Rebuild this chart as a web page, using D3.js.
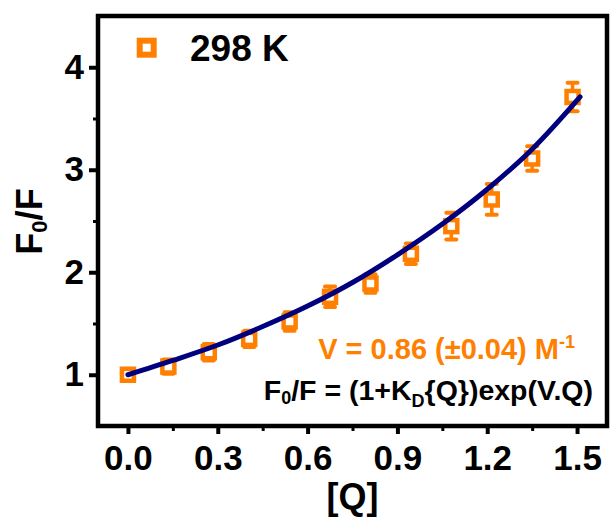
<!DOCTYPE html>
<meta charset="utf-8">
<style>

body {
  margin: 0;
  background: #fff;
}

svg {
  font-family: "Liberation Sans", Arial, sans-serif;
  font-weight: bold;
}

.axis text {
  font-family: "Liberation Sans", Arial, sans-serif;
  font-size: 35px;
  font-weight: bold;
  fill: #000;
}

.axis line {
  stroke: #000;
  stroke-width: 4px;
}

.axis.minor line {
  stroke-width: 3px;
}

.axis .domain {
  display: none;
}

.frame {
  fill: none;
  stroke: #000;
  stroke-width: 4.5px;
}

.errbar {
  stroke: #ff7f00;
  stroke-width: 3.5px;
}

.errcap {
  stroke: #ff7f00;
  stroke-width: 4px;
  stroke-linecap: round;
}

.marker {
  fill: #fff;
  stroke: #ff7f00;
}

.fit {
  fill: none;
  stroke: #00007f;
  stroke-width: 5px;
  stroke-linecap: round;
}

</style>
<svg width="611" height="517"></svg>
<script src="https://d3js.org/d3.v7.min.js"></script>
<script>

// measured points (298 K)
var qVals  = [0, 0.135, 0.27, 0.405, 0.54, 0.675, 0.81, 0.945, 1.08, 1.215, 1.35, 1.485];
var ratio  = [1.00, 1.08, 1.22, 1.35, 1.52, 1.76, 1.89, 2.18, 2.45, 2.71, 3.11, 3.71];
var errs   = [0.03, 0.07, 0.08, 0.08, 0.09, 0.10, 0.09, 0.10, 0.13, 0.15, 0.12, 0.14];

// fitted curve
var fitQ = [0, 0.15, 0.3, 0.45, 0.6, 0.75, 0.9, 1.05, 1.2, 1.35, 1.51];
var fitF = [1.00, 1.14, 1.29, 1.47, 1.67, 1.90, 2.17, 2.47, 2.81, 3.20, 3.71];

var xTicks = [0, 0.3, 0.6, 0.9, 1.2, 1.5];
var xMinor = [0.15, 0.45, 0.75, 1.05, 1.35];
var yTicks = [1, 2, 3, 4];
var yMinor = [1.5, 2.5, 3.5];

var svg = d3.select("svg"),
    plot = {left: 98, right: 607, top: 16, bottom: 426};

var x = d3.scaleLinear()
    .domain([-0.1, 1.6])
    .range([plot.left, plot.right]);

var y = d3.scaleLinear()
    .domain([0.5, 4.5])
    .range([plot.bottom, plot.top]);

// minor ticks first, then majors
svg.append("g")
    .attr("class", "axis minor")
    .attr("transform", "translate(" + plot.left + ",0)")
    .call(d3.axisLeft(y).tickValues(yMinor).tickSize(5).tickFormat(""));

svg.append("g")
    .attr("class", "axis minor")
    .attr("transform", "translate(0," + plot.bottom + ")")
    .call(d3.axisBottom(x).tickValues(xMinor).tickSize(5).tickFormat(""));

svg.append("g")
    .attr("class", "axis")
    .attr("transform", "translate(" + plot.left + ",0)")
    .call(d3.axisLeft(y).tickValues(yTicks).tickSize(9).tickPadding(5).tickFormat(d3.format("d")));

svg.append("g")
    .attr("class", "axis")
    .attr("transform", "translate(0," + plot.bottom + ")")
    .call(d3.axisBottom(x).tickValues(xTicks).tickSize(8).tickPadding(11).tickFormat(d3.format(".1f")));

svg.append("rect")
    .attr("class", "frame")
    .attr("x", plot.left)
    .attr("y", plot.top)
    .attr("width", plot.right - plot.left)
    .attr("height", plot.bottom - plot.top);

var pts = qVals.map(function(q, i) { return {q: q, f: ratio[i], e: errs[i]}; });

// error bars
var eb = svg.append("g");
eb.selectAll("line.errbar")
    .data(pts)
  .enter().append("line")
    .attr("class", "errbar")
    .attr("x1", function(d) { return x(d.q); })
    .attr("x2", function(d) { return x(d.q); })
    .attr("y1", function(d) { return y(d.f + d.e); })
    .attr("y2", function(d) { return y(d.f - d.e); });

[1, -1].forEach(function(s) {
  eb.selectAll("line.cap" + s)
      .data(pts)
    .enter().append("line")
      .attr("class", "errcap")
      .attr("x1", function(d) { return x(d.q) - 5; })
      .attr("x2", function(d) { return x(d.q) + 5; })
      .attr("y1", function(d) { return y(d.f + s * d.e); })
      .attr("y2", function(d) { return y(d.f + s * d.e); });
});

svg.append("g").selectAll("rect")
    .data(pts)
  .enter().append("rect")
    .attr("class", "marker")
    .attr("stroke-width", 4.5)
    .attr("x", function(d) { return x(d.q) - 6; })
    .attr("y", function(d) { return y(d.f) - 6; })
    .attr("width", 12)
    .attr("height", 12);

var line = d3.line()
    .x(function(d) { return x(d[0]); })
    .y(function(d) { return y(d[1]); })
    .curve(d3.curveCatmullRom);

svg.append("path")
    .datum(fitQ.map(function(q, i) { return [q, fitF[i]]; }))
    .attr("class", "fit")
    .attr("d", line);

// legend
svg.append("rect")
    .attr("class", "marker")
    .attr("stroke-width", 6)
    .attr("x", 146.7 - 7)
    .attr("y", 47.7 - 7)
    .attr("width", 14)
    .attr("height", 14);

svg.append("text")
    .attr("x", 190)
    .attr("y", 61)
    .style("font-size", "37px")
    .text("298 K");

// annotations
var t1 = svg.append("text")
    .attr("x", 575)
    .attr("y", 359)
    .attr("text-anchor", "end")
    .attr("fill", "#ff7f00")
    .style("font-size", "29px");
t1.append("tspan").text("V = 0.86 (\u00b10.04) M");
t1.append("tspan").attr("dy", -11).style("font-size", "18px").text("-1");

var t2 = svg.append("text")
    .attr("x", 593)
    .attr("y", 400)
    .attr("text-anchor", "end")
    .attr("fill", "#000")
    .style("font-size", "28.5px");
t2.append("tspan").text("F");
t2.append("tspan").attr("dy", 4).style("font-size", "18px").text("0");
t2.append("tspan").attr("dy", -4).text("/F = (1+K");
t2.append("tspan").attr("dy", 7).style("font-size", "18px").text("D");
t2.append("tspan").attr("dy", -7).text("{Q})exp(V.Q)");

// axis titles
var yt = svg.append("text")
    .attr("transform", "translate(42,221.5) rotate(-90)")
    .attr("text-anchor", "middle")
    .style("font-size", "36px");
yt.append("tspan").text("F");
yt.append("tspan").attr("dy", 5).style("font-size", "22px").text("0");
yt.append("tspan").attr("dy", -5).text("/F");

svg.append("text")
    .attr("x", (plot.left + plot.right) / 2)
    .attr("y", 509)
    .attr("text-anchor", "middle")
    .style("font-size", "36px")
    .text("[Q]");

</script>
